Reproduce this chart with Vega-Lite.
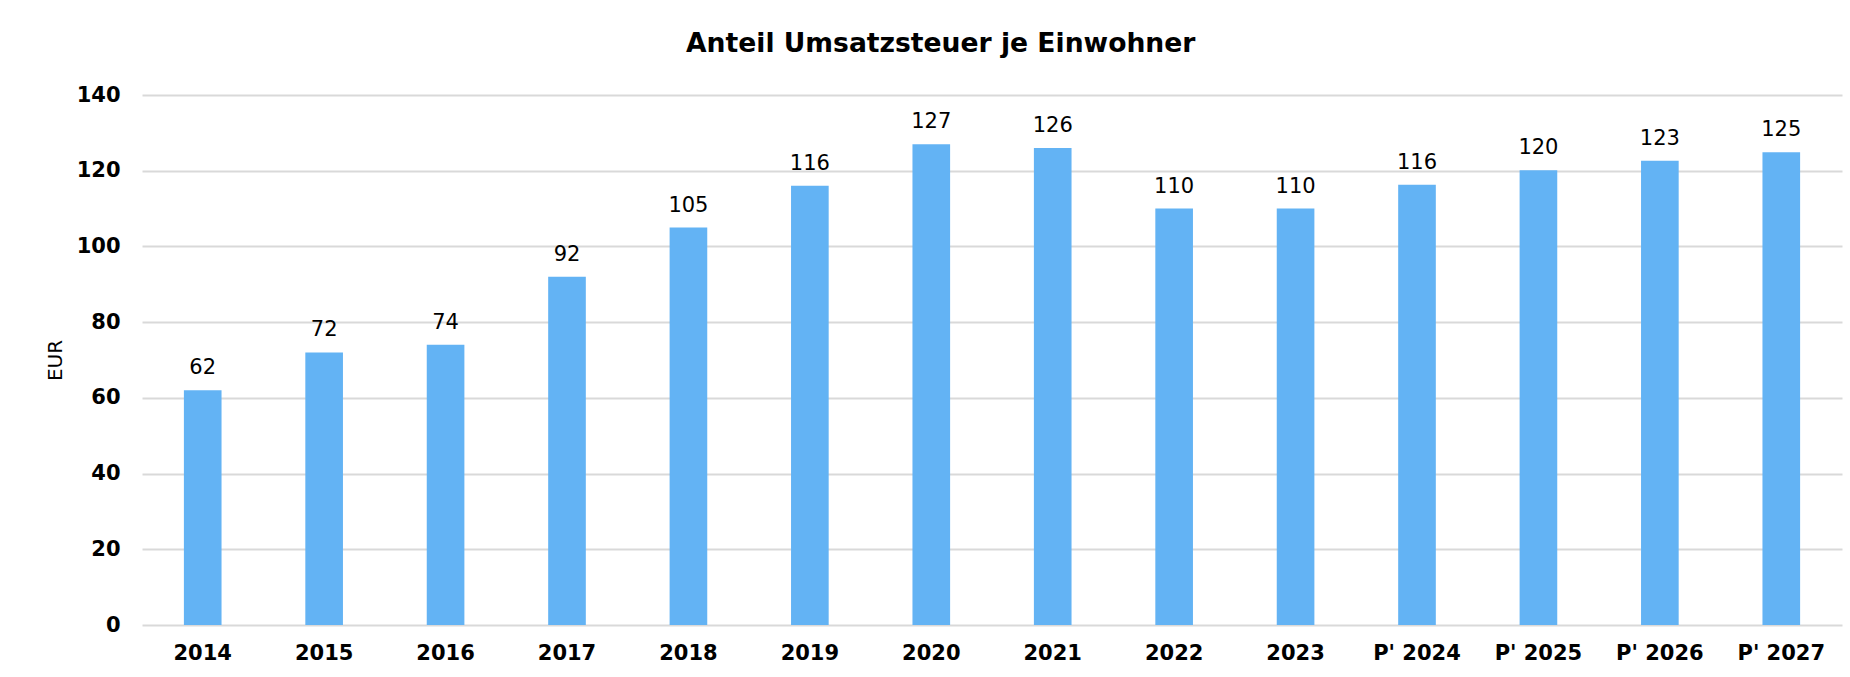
{
  "$schema": "https://vega.github.io/schema/vega-lite/v6.json",
  "width": 1700,
  "height": 530,
  "autosize": "none",
  "padding": {"left": 142, "top": 95, "right": 8, "bottom": 52},
  "background": "white",
  "title": {
    "text": "Anteil Umsatzsteuer je Einwohner",
    "anchor": "start",
    "frame": "group",
    "dx": 544,
    "dy": 35,
    "font": "DejaVu Sans",
    "fontSize": 26.6,
    "fontWeight": "bold",
    "color": "#000000",
    "baseline": "alphabetic",
    "offset": 40
  },
  "data": {
    "values": [
      {"jahr": "2014", "eur": 62},
      {"jahr": "2015", "eur": 72},
      {"jahr": "2016", "eur": 74},
      {"jahr": "2017", "eur": 92},
      {"jahr": "2018", "eur": 105},
      {"jahr": "2019", "eur": 116},
      {"jahr": "2020", "eur": 127},
      {"jahr": "2021", "eur": 126},
      {"jahr": "2022", "eur": 110},
      {"jahr": "2023", "eur": 110},
      {"jahr": "P' 2024", "eur": 116.3},
      {"jahr": "P' 2025", "eur": 120.1},
      {"jahr": "P' 2026", "eur": 122.6},
      {"jahr": "P' 2027", "eur": 124.9}
    ]
  },
  "encoding": {
    "x": {
      "field": "jahr",
      "type": "nominal",
      "sort": null,
      "scale": {"paddingInner": 0.69, "paddingOuter": 0.345},
      "axis": {
        "title": null,
        "labelAngle": 0,
        "labelFont": "DejaVu Sans",
        "labelFontSize": 21,
        "labelFontWeight": "bold",
        "labelColor": "#000000",
        "labelPadding": 17,
        "ticks": false,
        "domain": false,
        "grid": false
      }
    },
    "y": {
      "field": "eur",
      "type": "quantitative",
      "scale": {"domain": [0, 140], "nice": false},
      "axis": {
        "values": [0, 20, 40, 60, 80, 100, 120, 140],
        "title": "EUR",
        "titleFont": "DejaVu Sans",
        "titleFontSize": 20,
        "titleFontWeight": "normal",
        "titleColor": "#000000",
        "titleX": -87,
        "titleY": 265,
        "titleBaseline": "middle",
        "titleAlign": "center",
        "labelFont": "DejaVu Sans",
        "labelFontSize": 21,
        "labelFontWeight": "bold",
        "labelColor": "#000000",
        "labelPadding": 22,
        "ticks": false,
        "domain": false,
        "grid": true,
        "gridColor": "#d9d9d9",
        "gridWidth": 2
      }
    }
  },
  "layer": [
    {"mark": {"type": "bar", "color": "#63b3f4"}},
    {
      "mark": {
        "type": "text",
        "baseline": "alphabetic",
        "dy": -16,
        "font": "DejaVu Sans",
        "fontSize": 21,
        "color": "#000000"
      },
      "encoding": {"text": {"field": "eur", "type": "quantitative", "format": ".0f"}}
    }
  ],
  "config": {"view": {"stroke": null}}
}
